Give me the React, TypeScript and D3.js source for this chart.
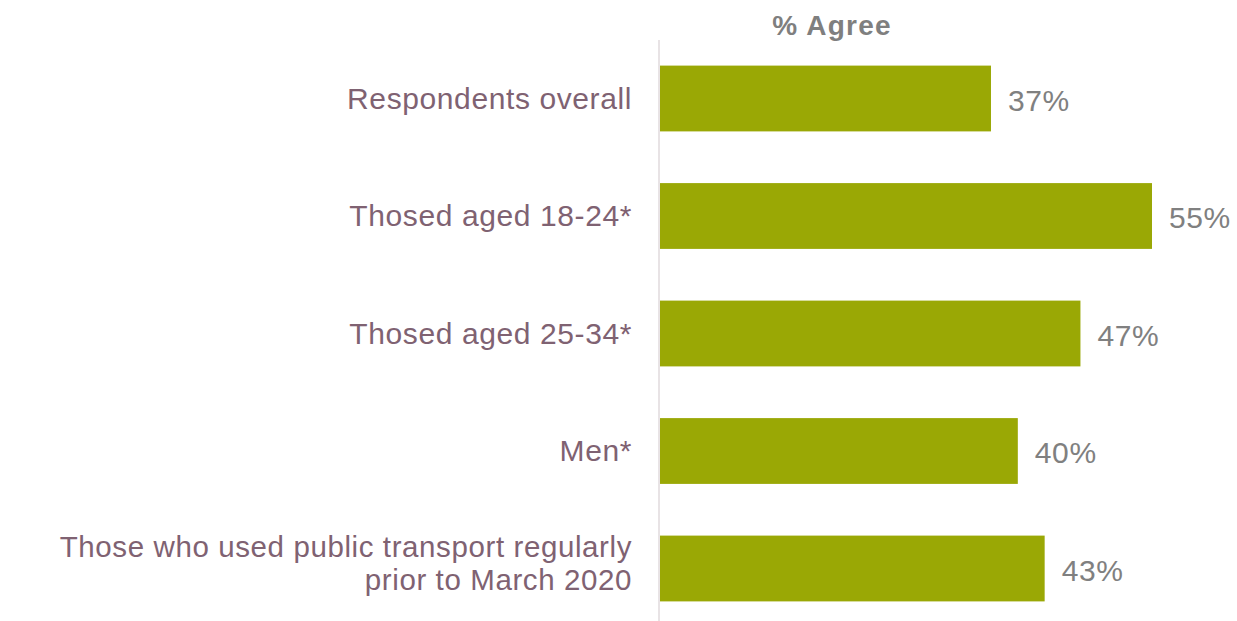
import React from "react";
import * as d3 from "d3";

const categories: string[][] = [
  ["Respondents overall"],
  ["Thosed aged 18-24*"],
  ["Thosed aged 25-34*"],
  ["Men*"],
  ["Those who used public transport regularly", "prior to March 2020"],
];
const values: number[] = [37, 55, 47, 40, 43];
const title = "% Agree";

const W = 1237;
const H = 621;
const x0 = 660;

export default function App() {
  const x = d3.scaleLinear().domain([0, 55]).range([x0, 1152]);
  const y = d3
    .scaleBand<number>()
    .domain(values.map((_, i) => i))
    .range([39.75, 627.25])
    .paddingInner(0.44)
    .paddingOuter(0.22);
  const font = "'Liberation Sans', Arial, sans-serif";
  return (
    <svg
      width={W}
      height={H}
      style={{ position: "absolute", left: 0, top: 0, background: "#fff" }}
    >
      <text
        x={832}
        y={35}
        textAnchor="middle"
        fontFamily={font}
        fontWeight="bold"
        fontSize={28}
        letterSpacing={1.2}
        fill="#7f7f7f"
      >
        {title}
      </text>
      <line x1={659} x2={659} y1={40} y2={H} stroke="#e0dadd" strokeWidth={1.5} />
      {values.map((v, i) => {
        const yy = y(i)!;
        const bw = y.bandwidth();
        const cy = yy + bw / 2;
        const lines = categories[i];
        const baselines = lines.length === 1 ? [cy + 10] : [cy - 11.5, cy + 21.5];
        return (
          <g key={i}>
            <rect x={x0} y={yy} width={x(v) - x0} height={bw} fill="#9aa805" />
            <text
              x={x(v) + 17}
              y={cy + 12}
              fontFamily={font}
              fontSize={30}
              letterSpacing={0.6}
              fill="#808080"
            >
              {v}%
            </text>
            {lines.map((l, j) => (
              <text
                key={j}
                x={632}
                y={baselines[j]}
                textAnchor="end"
                fontFamily={font}
                fontSize={lines.length === 1 ? 30 : 29.5}
                letterSpacing={0.6}
                fill="#7f6272"
              >
                {l}
              </text>
            ))}
          </g>
        );
      })}
    </svg>
  );
}
